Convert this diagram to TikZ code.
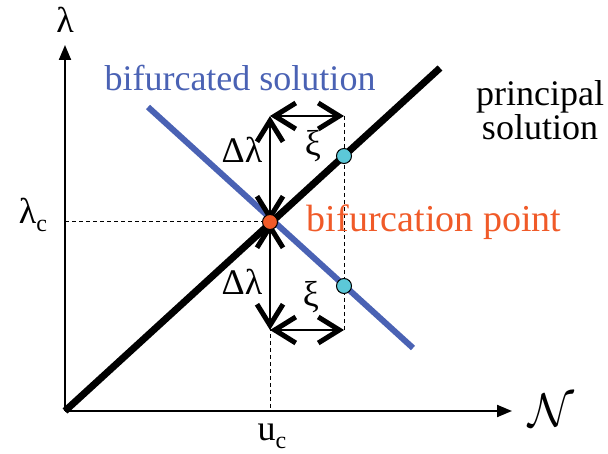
\documentclass[tikz,border=0pt]{standalone}
\usepackage{fontspec}
\setmainfont{Liberation Serif}
\usetikzlibrary{arrows.meta}
\definecolor{bblue}{HTML}{4A62B4}
\definecolor{bred}{HTML}{F05A28}
\definecolor{bcyan}{HTML}{5CC8D8}
\tikzset{
  lbl/.style={inner sep=0pt, font=\fontsize{36}{38}\selectfont},
  axis/.style={line width=2pt, -{Triangle[length=15pt,width=12pt]}},
  barb/.tip={Straight Barb[length=21pt,width=26pt,line width=5pt]},
  dbl/.style={line width=1.5pt, barb-barb},
  guide/.style={line width=1pt, dash pattern=on 4pt off 3pt},
  dot/.style={circle, draw=black, line width=1pt, minimum size=15pt, inner sep=0pt}
}
\begin{document}
\begin{tikzpicture}[x=1pt,y=-1pt]
\useasboundingbox (0,0) rectangle (608,454);
\coordinate (O) at (65,411);
\coordinate (Ytip) at (65,45);
\coordinate (Xtip) at (512,411);
\coordinate (Lc) at (65,222);
\coordinate (Uc) at (270,411);
\coordinate (P1) at (440,68);
\coordinate (Q0) at (148,107);
\coordinate (Q1) at (413,348);
\coordinate (T) at (270,116);
\coordinate (Tr) at (344,116);
\coordinate (M) at (270,222);
\coordinate (Bt) at (270,330);
\coordinate (Br) at (344,330);
% guides
\draw[guide] (Lc) -- (M);
\draw[guide] (M) -- (Uc);
\draw[guide] (Tr) -- (Br);
% axes
\draw[axis] (O) -- (Ytip);
\draw[axis] (O) -- (Xtip);
% solution lines
\draw[bblue, line width=6pt] (Q0) -- (Q1);
\draw[black, line width=7pt] (O) -- (P1);
% double arrows
\draw[dbl] (T) -- (Tr);
\draw[dbl] (T) -- (M);
\draw[dbl] (M) -- (Bt);
\draw[dbl] (Bt) -- (Br);
% dots
\node[dot, fill=bred] (B) at (M) {};
\node[dot, fill=bcyan] (C1) at (344,156) {};
\node[dot, fill=bcyan] (C2) at (344,286) {};
% labels
\node[lbl] (lam) at (65,20) {λ};
\node[lbl] (N) at (551,410) {\scalebox{1.9}{$\mathcal{N}$}};
\node[lbl] (lamc) at (33,215) {λ\raisebox{-8pt}{\fontsize{24}{24}\selectfont c}};
\node[lbl] (uc) at (272,436) {u\raisebox{-8pt}{\fontsize{24}{24}\selectfont c}};
\node[lbl] (dl1) at (242,150) {Δλ};
\node[lbl] (dl2) at (242,282) {Δλ};
\node[lbl] (xi1) at (313,146) {ξ};
\node[lbl] (xi2) at (311,297) {ξ};
\node[lbl, text=bblue] (bs) at (240,78) {bifurcated solution};
\node[lbl, align=center] (ps) at (540,110) {principal\\[-4pt]solution};
\node[lbl, text=bred, font=\fontsize{38}{40}\selectfont] (bp) at (434,222) {bifurcation point};
\end{tikzpicture}
\end{document}
